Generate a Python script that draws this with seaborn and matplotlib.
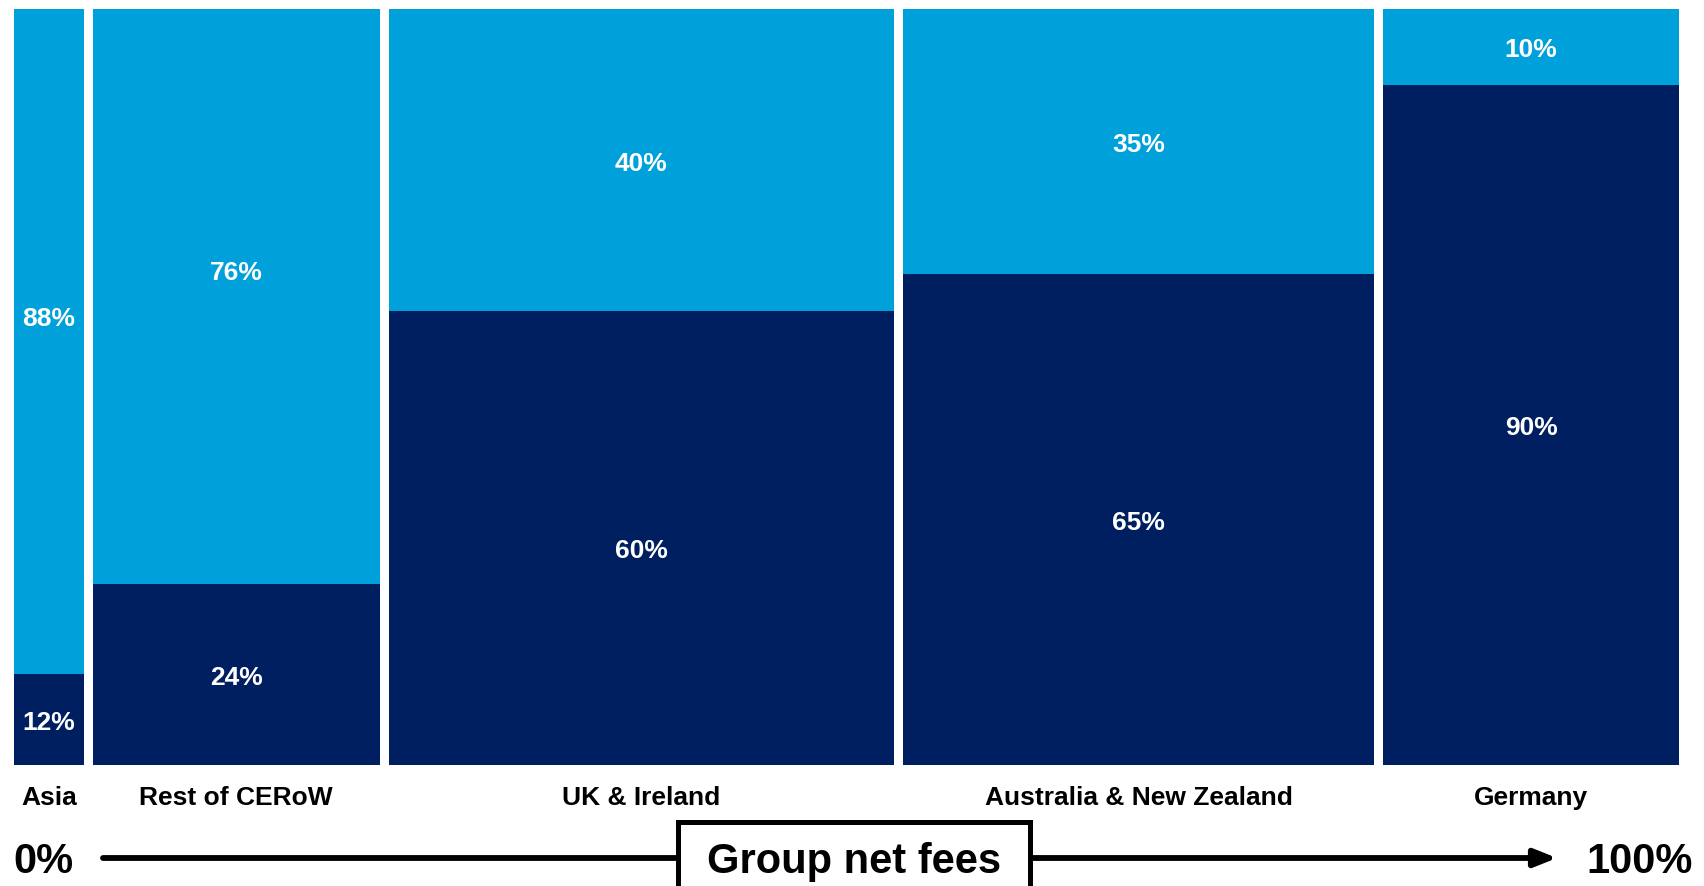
import matplotlib
matplotlib.use("Agg")
import matplotlib.pyplot as plt
import matplotlib.transforms as mtransforms
from matplotlib.patches import Rectangle
import seaborn as sns

# Regions, their share of group net fees (column widths) and the split of each
regions = ["Asia", "Rest of CERoW", "UK & Ireland", "Australia & New Zealand", "Germany"]
fee_share = [4.7, 17.7, 30.7, 28.7, 18.2]
dark_pct = [12, 24, 60, 65, 90]
light_pct = [88, 76, 40, 35, 10]

DARK = "#001F60"
LIGHT = "#00A0DA"

sns.set_theme(style="white")
plt.rcParams["font.family"] = ["Liberation Sans", "DejaVu Sans"]

W, H = 1704, 887
fig = plt.figure(figsize=(W / 100, H / 100), dpi=100)
ax = fig.add_axes([14 / W, (H - 766) / H, (1688 - 14) / W, 756 / H])
ax.set_xlim(0, 100)
ax.set_ylim(0, 100)
ax.axis("off")


def cap_centered(trans, size):
    """Shift a baseline-anchored text so its cap height is centred on y."""
    return mtransforms.offset_copy(trans, fig=fig, y=-0.36 * size, units="points")


gap = 0.54
lefts = []
acc = 0.0
for s in fee_share:
    lefts.append(acc)
    acc += s
widths = [s - gap for s in fee_share]

ax.bar(lefts, dark_pct, width=widths, align="edge", color=DARK, linewidth=0)
ax.bar(lefts, light_pct, width=widths, bottom=dark_pct, align="edge", color=LIGHT, linewidth=0)

# vertical nudges for the segment labels
light_nudge = [3.5, 3.5, 0, 0, 0]
dark_nudge = [0, 0, -1.2, 0, 0]
VAL_SIZE = 19
val_trans = cap_centered(ax.transData, VAL_SIZE)
lab_kw = dict(color="white", fontsize=VAL_SIZE, fontweight="bold", ha="center",
              va="baseline", transform=val_trans)
for l, w, d, lt, nl, nd in zip(lefts, widths, dark_pct, light_pct, light_nudge, dark_nudge):
    cx = l + w / 2
    ax.text(cx, d / 2 + nd, f"{d}%", **lab_kw)
    ax.text(cx, d + lt / 2 + nl, f"{lt}%", **lab_kw)

# region names under the columns
CAT_SIZE = 19
trans = mtransforms.blended_transform_factory(ax.transData, fig.transFigure)
for l, w, name in zip(lefts, widths, regions):
    ax.text(l + w / 2, 1 - 796 / H, name, transform=cap_centered(trans, CAT_SIZE),
            ha="center", va="baseline", fontsize=CAT_SIZE, fontweight="bold", color="black")

# 0% -> 100% axis arrow with boxed title
y_arrow = H - 859
ax.annotate("", xy=(1557, y_arrow), xytext=(103, y_arrow),
            xycoords="figure pixels", textcoords="figure pixels",
            arrowprops=dict(arrowstyle="-|>,head_length=0.55,head_width=0.22",
                            lw=4.2, color="black", mutation_scale=24,
                            shrinkA=0, shrinkB=0),
            annotation_clip=False)

box = Rectangle((678 / W, -0.02), (1030 - 678) / W, (H - 823) / H + 0.02,
                transform=fig.transFigure, facecolor="white", edgecolor="black",
                linewidth=3.6, zorder=5, clip_on=False)
fig.patches.append(box)

BIG = 30
ftrans = cap_centered(fig.transFigure, BIG)
fig.text(854 / W, 1 - 858 / H, "Group net fees", ha="center", va="baseline",
         fontsize=BIG, fontweight="bold", color="black", zorder=6, transform=ftrans)
fig.text(13 / W, 1 - 858 / H, "0%", ha="left", va="baseline",
         fontsize=BIG, fontweight="bold", color="black", transform=ftrans)
fig.text(1693 / W, 1 - 858 / H, "100%", ha="right", va="baseline",
         fontsize=BIG, fontweight="bold", color="black", transform=ftrans)

fig.savefig("out.png", dpi=100, facecolor="white")
